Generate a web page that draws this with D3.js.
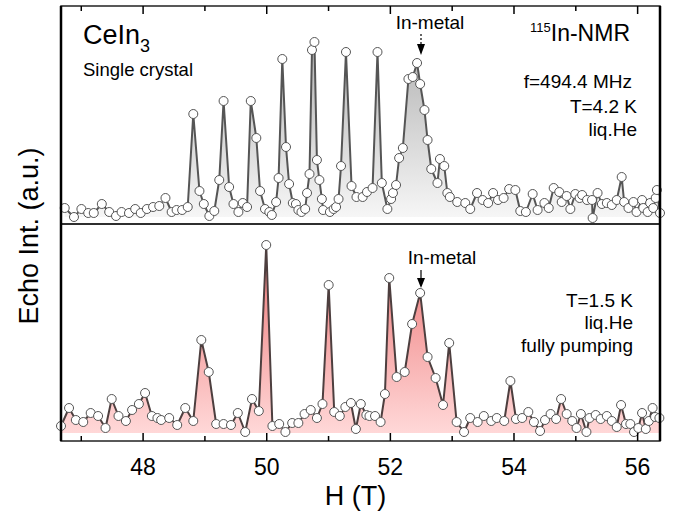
<!DOCTYPE html>
<html>
<head>
<meta charset="utf-8">
<script src="https://cdn.jsdelivr.net/npm/d3@7"></script>
<style>
  html, body { margin: 0; padding: 0; background: #fff; }
  svg { display: block; font-family: "Liberation Sans", Arial, Helvetica, sans-serif; }
</style>
</head>
<body>
<div class="chart"></div>
<script>
'use strict';

// Field (T) and echo intensity (a.u.), 4.2 K spectrum
const fieldTop = [46.74, 46.89, 47.01, 47.12, 47.21, 47.34, 47.46, 47.57, 47.66, 47.78, 47.88, 47.97, 48.07, 48.17, 48.27, 48.37, 48.47, 48.55, 48.64, 48.73,
  48.82, 48.92, 48.99, 49.08, 49.16, 49.24, 49.31, 49.40, 49.47, 49.55, 49.62, 49.69, 49.75, 49.84, 49.90, 49.98, 50.05, 50.09, 50.16, 50.20,
  50.26, 50.32, 50.37, 50.43, 50.48, 50.52, 50.57, 50.63, 50.66, 50.70, 50.74, 50.78, 50.82, 50.86, 50.90, 50.92, 51.03, 51.09, 51.13, 51.17,
  51.21, 51.29, 51.38, 51.46, 51.56, 51.63, 51.72, 51.80, 51.87, 51.96, 52.02, 52.05, 52.10, 52.15, 52.21, 52.30, 52.37, 52.44, 52.49, 52.56,
  52.61, 52.67, 52.77, 52.81, 52.88, 52.93, 52.97, 53.09, 53.22, 53.30, 53.41, 53.50, 53.59, 53.67, 53.75, 53.84, 53.93, 54.03, 54.11, 54.20,
  54.31, 54.39, 54.50, 54.57, 54.65, 54.74, 54.78, 54.86, 54.92, 55.00, 55.07, 55.11, 55.19, 55.27, 55.28, 55.36, 55.43, 55.51, 55.59, 55.67,
  55.75, 55.79, 55.86, 55.94, 55.99, 56.08, 56.10, 56.17, 56.21, 56.26, 56.30, 56.32, 56.37];
const echoTop = [9, 0, 8, 4, 4, 13, 5, 1, 5, 4, 8, 4, 8, 10, 11, 19, 5, 7, 7, 10,
  103, 26, 13, 1, 6, 37, 116, 30, 13, 5, 14, 10, 116, 79, 26, 8, 5, 2, 15, 39,
  158, 70, 33, 14, 13, 7, 5, 8, 24, 43, 167, 175, 57, 37, 18, 7, 5, 8, 10, 18,
  51, 165, 31, 20, 20, 25, 29, 165, 34, 8, 18, 24, 32, 59, 69, 138, 140, 154, 133, 107,
  77, 48, 34, 58, 51, 24, 20, 15, 14, 8, 24, 17, 14, 24, 17, 19, 28, 27, 6, 5,
  23, 7, 14, 9, 29, 25, 15, 21, 8, 23, 19, 22, 17, 17, -1, 24, 13, 14, 12, 17,
  40, 15, 9, 15, 5, 17, 9, 5, 14, 9, 19, 27, 4];

// 1.5 K spectrum
const fieldBottom = [46.68, 46.81, 46.92, 47.04, 47.16, 47.28, 47.40, 47.50, 47.61, 47.73, 47.83, 47.94, 48.04, 48.15, 48.24, 48.30, 48.43, 48.56, 48.69, 48.82,
  48.95, 49.07, 49.19, 49.31, 49.43, 49.54, 49.66, 49.77, 49.88, 50.00, 50.10, 50.21, 50.31, 50.42, 50.52, 50.62, 50.72, 50.82, 50.91, 51.01,
  51.10, 51.19, 51.28, 51.37, 51.45, 51.53, 51.62, 51.67, 51.76, 51.85, 51.92, 51.99, 52.11, 52.24, 52.36, 52.49, 52.61, 52.74, 52.86, 52.96,
  53.08, 53.20, 53.30, 53.42, 53.52, 53.64, 53.73, 53.85, 53.95, 54.04, 54.14, 54.24, 54.33, 54.43, 54.51, 54.60, 54.69, 54.77, 54.86, 54.95,
  55.02, 55.09, 55.18, 55.23, 55.33, 55.41, 55.51, 55.59, 55.67, 55.74, 55.82, 55.89, 55.95, 56.02, 56.08, 56.14, 56.19, 56.25, 56.29, 56.36];
const echoBottom = [7, 25, 13, 11, 20, 17, 5, 34, 17, 12, 23, 29, 40, 17, 15, 13, 15, 8, 25, 12,
  93, 61, 9, 9, 8, 20, 1, 34, 22, 188, 7, 9, 1, 10, 10, 19, 23, 15, 29, 148,
  21, 17, 26, 30, 4, 29, 18, 17, 17, 11, 39, 155, 56, 61, 109, 140, 76, 55, 28, 90,
  11, 1, 15, 11, 17, 12, 15, 12, 52, 14, 15, 21, 11, 2, 13, 19, 14, 34, 19, 12,
  5, 19, 1, 15, 18, 14, 17, 12, 6, 28, 9, 9, 1, 5, 20, 4, 12, 25, 16, 15];

const majorTicks = [48, 50, 52, 54, 56];
const minorTicks = [47, 49, 51, 53, 55];

const w = 677;
const h = 512;
const left = 61, right = 660;
const topY = 6, midY = 224, bottomY = 441;

const svg = d3.select('.chart')
  .append('svg')
  .attr('width', w)
  .attr('height', h);

const defs = svg.append('defs');

function gradient(id, y1, y2, c1, c2) {
  const g = defs.append('linearGradient')
    .attr('id', id)
    .attr('gradientUnits', 'userSpaceOnUse')
    .attr('x1', 0).attr('x2', 0)
    .attr('y1', y1).attr('y2', y2);
  g.append('stop').attr('offset', 0).attr('stop-color', c1);
  g.append('stop').attr('offset', 1).attr('stop-color', c2);
}

// Scales
const xScale = d3.scaleLinear()
  .domain([46.68, 56.37])
  .range([left, right]);

const yTop = d3.scaleLinear().domain([0, 200]).range([217, 17]);
const yBottom = d3.scaleLinear().domain([0, 200]).range([433, 233]);

gradient('fillTop', 17, 217, '#a9a9a9', '#f6f6f6');
gradient('fillBottom', 233, 433, '#ec7070', '#ffd8d8');

function drawPanel(fields, echoes, yScale, fillId, lineColor) {
  const pts = fields.map((f, i) => [f, echoes[i]]);

  const area = d3.area()
    .x(d => xScale(d[0]))
    .y0(yScale(0))
    .y1(d => yScale(d[1]));

  const line = d3.line()
    .x(d => xScale(d[0]))
    .y(d => yScale(d[1]));

  svg.append('path')
    .datum(pts)
    .attr('d', area)
    .attr('fill', `url(#${fillId})`);

  svg.append('path')
    .datum(pts)
    .attr('d', line)
    .attr('fill', 'none')
    .attr('stroke', lineColor)
    .attr('stroke-width', 2)
    .attr('stroke-linejoin', 'round');

  svg.append('g')
    .selectAll('circle')
    .data(pts)
    .enter()
    .append('circle')
    .attr('cx', d => xScale(d[0]))
    .attr('cy', d => yScale(d[1]))
    .attr('r', 4.5)
    .attr('fill', '#fff')
    .attr('stroke', '#555')
    .attr('stroke-width', 1);
}

drawPanel(fieldTop, echoTop, yTop, 'fillTop', '#555');
drawPanel(fieldBottom, echoBottom, yBottom, 'fillBottom', '#4d3f3f');

// Frames
svg.append('rect')
  .attr('x', left).attr('y', topY)
  .attr('width', right - left).attr('height', midY - topY)
  .attr('fill', 'none').attr('stroke', '#222').attr('stroke-width', 1.5);
svg.append('rect')
  .attr('x', left).attr('y', midY)
  .attr('width', right - left).attr('height', bottomY - midY)
  .attr('fill', 'none').attr('stroke', '#222').attr('stroke-width', 1.5);
svg.append('line')
  .attr('x1', left).attr('x2', left).attr('y1', topY).attr('y2', bottomY)
  .attr('stroke', '#000').attr('stroke-width', 2.5);
svg.append('line')
  .attr('x1', right).attr('x2', right).attr('y1', topY).attr('y2', bottomY)
  .attr('stroke', '#000').attr('stroke-width', 2.5);

// Axes
const xAxis = d3.axisBottom(xScale)
  .tickValues(majorTicks)
  .tickSize(-8)
  .tickPadding(18)
  .tickFormat(d3.format('d'));
const xMinor = d3.axisBottom(xScale).tickValues(minorTicks).tickSize(-5).tickFormat('');

const gx = svg.append('g')
  .attr('transform', `translate(0, ${bottomY})`)
  .call(xAxis);
svg.append('g')
  .attr('transform', `translate(0, ${bottomY})`)
  .call(xMinor);

svg.append('g')
  .attr('transform', `translate(0, ${topY})`)
  .call(d3.axisTop(xScale).tickValues(majorTicks).tickSize(-8).tickFormat(''));
svg.append('g')
  .attr('transform', `translate(0, ${topY})`)
  .call(d3.axisTop(xScale).tickValues(minorTicks).tickSize(-5).tickFormat(''));

svg.selectAll('.domain').remove();
svg.selectAll('.tick line').attr('stroke', '#000').attr('stroke-width', 1.5);
gx.selectAll('.tick text')
  .attr('font-size', 23)
  .attr('font-family', '"Liberation Sans", Arial, sans-serif')
  .attr('fill', '#000');

// Axis titles
svg.append('text')
  .attr('x', (left + right) / 2 - 5)
  .attr('y', 505)
  .attr('text-anchor', 'middle')
  .attr('font-size', 27)
  .text('H (T)');

svg.append('text')
  .attr('transform', 'translate(38, 236) rotate(-90)')
  .attr('text-anchor', 'middle')
  .attr('font-size', 27)
  .text('Echo Int. (a.u.)');

// Annotations, top panel
const ce = svg.append('text').attr('x', 83).attr('y', 44).attr('font-size', 27);
ce.append('tspan').text('CeIn');
ce.append('tspan').attr('dy', 8).attr('font-size', 18).text('3');

svg.append('text').attr('x', 83).attr('y', 76).attr('font-size', 18.5).text('Single crystal');

const nmr = svg.append('text').attr('x', 630).attr('y', 41).attr('font-size', 23).attr('text-anchor', 'end');
nmr.append('tspan').attr('dy', -9).attr('font-size', 13).text('115');
nmr.append('tspan').attr('dy', 9).text('In-NMR');

svg.append('text').attr('x', 632).attr('y', 88).attr('font-size', 19).attr('text-anchor', 'end').text('f=494.4 MHz');
svg.append('text').attr('x', 637).attr('y', 113).attr('font-size', 19).attr('text-anchor', 'end').text('T=4.2 K');
svg.append('text').attr('x', 637).attr('y', 136).attr('font-size', 19).attr('text-anchor', 'end').text('liq.He');

svg.append('text').attr('x', 430).attr('y', 29).attr('font-size', 19).attr('text-anchor', 'middle').text('In-metal');
svg.append('line')
  .attr('x1', 421).attr('x2', 421).attr('y1', 34).attr('y2', 45)
  .attr('stroke', '#000').attr('stroke-width', 1.2).attr('stroke-dasharray', '2,2');
svg.append('path')
  .attr('d', 'M417,44 L425,44 L421,55 Z')
  .attr('fill', '#000');

// Annotations, bottom panel
svg.append('text').attr('x', 442).attr('y', 264).attr('font-size', 19).attr('text-anchor', 'middle').text('In-metal');
svg.append('line')
  .attr('x1', 421).attr('x2', 421).attr('y1', 270).attr('y2', 280)
  .attr('stroke', '#000').attr('stroke-width', 1.2);
svg.append('path')
  .attr('d', 'M417,278 L425,278 L421,288 Z')
  .attr('fill', '#000');

svg.append('text').attr('x', 633).attr('y', 307).attr('font-size', 19).attr('text-anchor', 'end').text('T=1.5 K');
svg.append('text').attr('x', 633).attr('y', 329).attr('font-size', 19).attr('text-anchor', 'end').text('liq.He');
svg.append('text').attr('x', 633).attr('y', 352).attr('font-size', 19).attr('text-anchor', 'end').text('fully pumping');
</script>
</body>
</html>
